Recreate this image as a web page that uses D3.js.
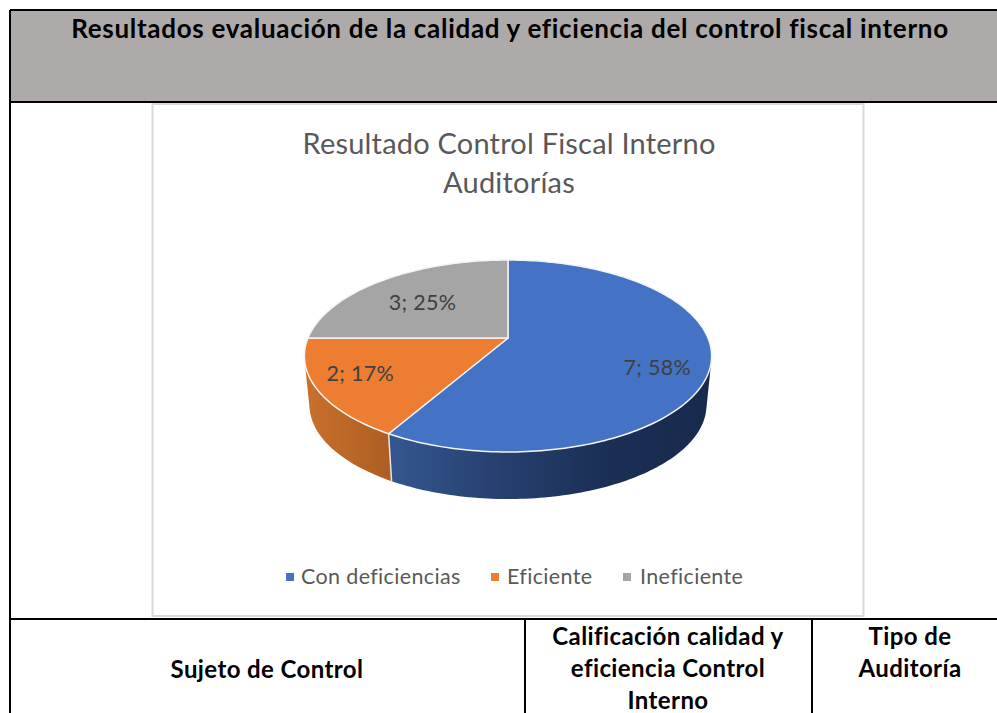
<!DOCTYPE html>
<html>
<head>
<meta charset="utf-8">
<script src="https://cdn.jsdelivr.net/npm/d3@7"></script>
<style>
  html, body { margin: 0; padding: 0; background: #fff; }
  svg { display: block; }
  text { font-family: Lato, "Open Sans", sans-serif; }
</style>
</head>
<body>
<svg id="chart" width="997" height="713"></svg>
<script>
// data
var categories = ["Con deficiencias", "Eficiente", "Ineficiente"];
var values = [7, 2, 3];
var colors = ["#4472c4", "#ed7d31", "#a5a5a5"];
var chartTitle = ["Resultado Control Fiscal Interno", "Auditorías"];
var tableTitle = "Resultados evaluación de la calidad y eficiencia del control fiscal interno";
var colHeaders = [
    { lines: ["Sujeto de Control"], x: 267, y: 678 },
    { lines: ["Calificación calidad y", "eficiencia Control", "Interno"], x: 668, y: 645 },
    { lines: ["Tipo de", "Auditoría"], x: 910, y: 645 }
];

var svg = d3.select("#chart");
var defs = svg.append("defs");

// table behind the chart
svg.append("rect").attr("x", 10).attr("y", 10).attr("width", 987).attr("height", 92).attr("fill", "#aeaaaa");
var tableLines = [
    [10, 10, 997, 10], [10, 102, 997, 102], [10, 619, 997, 619],
    [10, 10, 10, 713], [525, 619, 525, 713], [812, 619, 812, 713]
];
svg.selectAll("line.grid").data(tableLines).enter().append("line")
    .attr("class", "grid")
    .attr("x1", function (d) { return d[0]; }).attr("y1", function (d) { return d[1]; })
    .attr("x2", function (d) { return d[2]; }).attr("y2", function (d) { return d[3]; })
    .attr("stroke", "#000").attr("stroke-width", 2);

svg.append("text").attr("x", 510).attr("y", 38).attr("text-anchor", "middle")
    .attr("font-size", 26).attr("letter-spacing", 0.7).attr("font-weight", 700).attr("fill", "#000").text(tableTitle);

colHeaders.forEach(function (h) {
    h.lines.forEach(function (line, i) {
        svg.append("text").attr("x", h.x).attr("y", h.y + i * 32).attr("text-anchor", "middle")
            .attr("font-size", 24).attr("letter-spacing", 0.4).attr("font-weight", 700).attr("fill", "#000").text(line);
    });
});

// chart box
svg.append("rect").attr("x", 152.5).attr("y", 104).attr("width", 711).attr("height", 512)
    .attr("fill", "#fff").attr("stroke", "#d9d9d9").attr("stroke-width", 2);

chartTitle.forEach(function (t, i) {
    svg.append("text").attr("x", 509).attr("y", 154 + i * 39).attr("text-anchor", "middle")
        .attr("font-size", 29).attr("letter-spacing", 0.2).attr("fill", "#595959").text(t);
});

// 3d pie: unit circle pushed through a perspective, so the apex sits above the ellipse centre
var cx = 508, apexY = 338, k = -0.1875, sx = 200, sy = 92.6;
function project(angle, r) {
    var X = r * Math.sin(angle), Y = -r * Math.cos(angle);
    var w = 1 + k * Y;
    return [cx + sx * X / w, apexY + sy * Y / w];
}
function lower(p) {
    return [cx + (p[0] - cx) * 0.975, 405 + (p[1] - 356) * 0.98];
}

var pie = d3.pie().sort(null)(values);
var total = d3.sum(values);
var line = d3.line();

function rimAngles(d) {
    var n = Math.max(2, Math.ceil((d.endAngle - d.startAngle) / 0.02));
    return d3.range(n + 1).map(function (i) {
        return d.startAngle + (d.endAngle - d.startAngle) * i / n;
    });
}

// side wall gradients
var sideStops = [
    [[391, "#34568f"], [500, "#26406f"], [610, "#1b2e54"], [712, "#182a4c"]],
    [[305, "#c9702c"], [392, "#ad5e24"]]
];
sideStops.forEach(function (stops, i) {
    var g = defs.append("linearGradient").attr("id", "side" + i)
        .attr("gradientUnits", "userSpaceOnUse")
        .attr("x1", stops[0][0]).attr("x2", stops[stops.length - 1][0]).attr("y1", 0).attr("y2", 0);
    stops.forEach(function (s) {
        g.append("stop")
            .attr("offset", (s[0] - stops[0][0]) / (stops[stops.length - 1][0] - stops[0][0]))
            .attr("stop-color", s[1]);
    });
});

// one path per wall, so no seams between the little quads
// every quad wound the same way, otherwise they cancel out where the wall turns away
sideStops.forEach(function (stops, i) {
    var quads = d3.pairs(rimAngles(pie[i]));
    var d = quads.map(function (q) {
        var p0 = project(q[0], 1), p1 = project(q[1], 1);
        var quad = [p0, p1, lower(p1), lower(p0)];
        if (d3.polygonArea(quad) < 0) quad.reverse();
        return line(quad) + "Z";
    }).join("");
    svg.append("path").attr("d", d).attr("fill", "url(#side" + i + ")");
});

// light edge between the two visible walls
var edgeTop = project(pie[0].endAngle, 1);
svg.append("path").attr("d", line([edgeTop, lower(edgeTop)]))
    .attr("stroke", "#e8e4df").attr("stroke-width", 1.5).attr("fill", "none");

// top faces
svg.append("g").selectAll("path").data(pie).enter().append("path")
    .attr("d", function (d) {
        var pts = rimAngles(d).map(function (a) { return project(a, 1); });
        return line([[cx, apexY]].concat(pts)) + "Z";
    })
    .attr("fill", function (d, i) { return colors[i]; })
    .attr("stroke", "#f4f4f4").attr("stroke-width", 1.5).attr("stroke-linejoin", "round");

// data labels
var labelNudge = [[-1, 11], [-8, -2], [11, 9]];
svg.append("g").selectAll("text").data(pie).enter().append("text")
    .attr("transform", function (d, i) {
        var p = project((d.startAngle + d.endAngle) / 2, 0.75);
        return "translate(" + (p[0] + labelNudge[i][0]) + "," + (p[1] + labelNudge[i][1]) + ")";
    })
    .attr("text-anchor", "middle").attr("dy", "0.36em")
    .attr("font-size", 21.5).attr("letter-spacing", 0.3).attr("fill", "#404040")
    .text(function (d) { return d.value + "; " + Math.round(d.value / total * 100) + "%"; });

// legend
var legendX = [286, 491, 623];
var legendTextX = [15, 16, 17];
var legend = svg.append("g").selectAll("g").data(categories).enter().append("g")
    .attr("transform", function (d, i) { return "translate(" + legendX[i] + ",573)"; });
legend.append("rect").attr("width", 8).attr("height", 8)
    .attr("fill", function (d, i) { return colors[i]; });
legend.append("text").attr("x", function (d, i) { return legendTextX[i]; }).attr("y", 10.5)
    .attr("font-size", 21.5).attr("letter-spacing", 0.35).attr("fill", "#595959").text(function (d) { return d; });
</script>
</body>
</html>
